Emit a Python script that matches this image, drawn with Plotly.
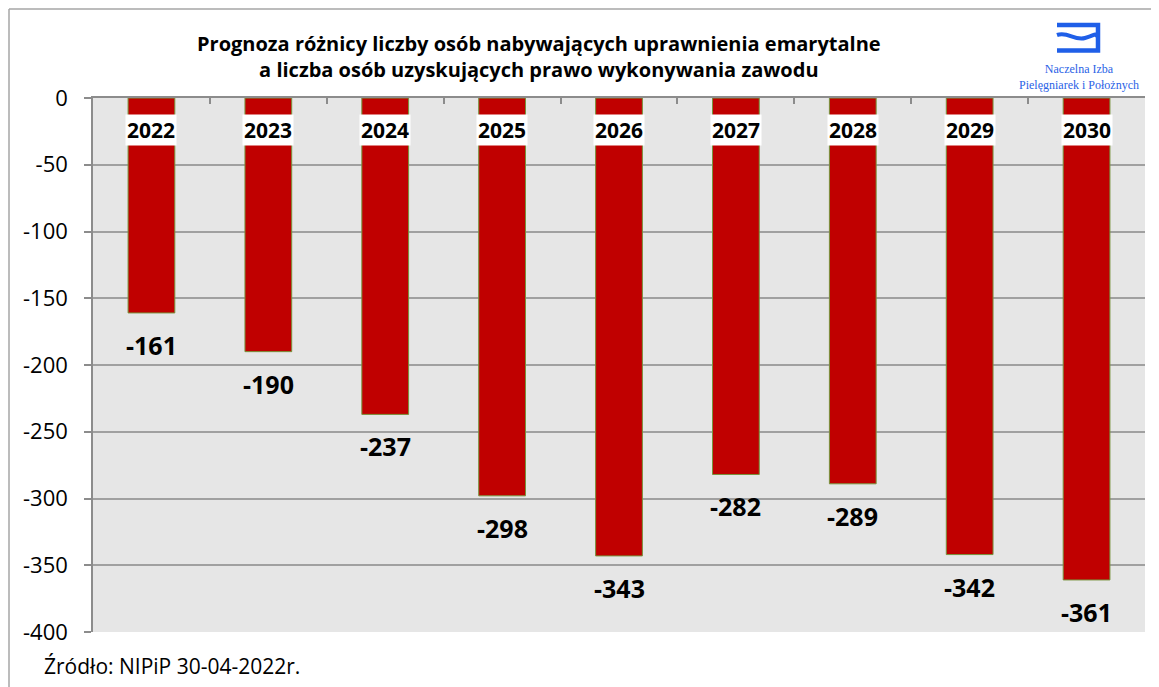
import plotly.graph_objects as go

years = ["2022", "2023", "2024", "2025", "2026", "2027", "2028", "2029", "2030"]
values = [-161, -190, -237, -298, -343, -282, -289, -342, -361]
y_ticks = [0, -50, -100, -150, -200, -250, -300, -350, -400]

title_text = ("Prognoza różnicy liczby osób nabywających uprawnienia emarytalne<br>"
              "a liczba osób uzyskujących prawo wykonywania zawodu")
source_text = "Źródło: NIPiP 30-04-2022r."
logo_text = "Naczelna Izba<br>Pielęgniarek i Położnych"

# page body has an 8px margin; screen coords are used below
OFF = 8
W, H = 1151, 679
ML, MR, MT, MB = 85, 14, 90, 55
PW, PH = W - ML - MR, H - MT - MB


def px(sx):
    return (sx - OFF - ML) / PW


def py(sy):
    return (OFF + H - MB - sy) / PH


FONT = "Open Sans"
idx = list(range(len(years)))

fig = go.Figure()
fig.add_trace(go.Bar(
    x=idx, y=values,
    marker=dict(color="#C00000", line=dict(color="#77933C", width=1)),
    width=0.4,
    customdata=years,
    hovertemplate="%{customdata}: %{y}<extra></extra>",
))

annotations = []
for i, (yr, v) in enumerate(zip(years, values)):
    annotations.append(dict(
        x=i, y=0, xref="x", yref="y", text="<b>%s</b>" % yr, showarrow=False,
        yshift=-32, yanchor="middle", bgcolor="white", borderpad=1,
        font=dict(family=FONT, size=21, color="black")))
    annotations.append(dict(
        x=i, y=v, xref="x", yref="y", text="<b>%d</b>" % v, showarrow=False,
        yshift=-32, yanchor="middle",
        font=dict(family=FONT, size=25, color="black")))

annotations.append(dict(
    x=px(539), y=py(56), xref="paper", yref="paper", text="<b>%s</b>" % title_text,
    showarrow=False, xanchor="center", yanchor="middle", align="center",
    font=dict(family=FONT, size=20, color="black")))
annotations.append(dict(
    x=px(1079), y=py(77), xref="paper", yref="paper", text=logo_text,
    showarrow=False, xanchor="center", yanchor="middle", align="center",
    font=dict(family="Liberation Serif", size=12, color="#2A62E6")))
annotations.append(dict(
    x=px(42), y=py(666), xref="paper", yref="paper", text=source_text,
    showarrow=False, xanchor="left", yanchor="middle",
    font=dict(family=FONT, size=21, color="black")))

blue = "#1F5FE8"
shapes = [
    # outer frame (left and top edges)
    dict(type="line", xref="paper", yref="paper",
         x0=px(9), y0=py(9), x1=px(9), y1=py(720),
         line=dict(color="#A6A6A6", width=1.5)),
    dict(type="line", xref="paper", yref="paper",
         x0=px(9), y0=py(9), x1=px(1200), y1=py(9),
         line=dict(color="#A6A6A6", width=1.5)),
    # logo
    dict(type="path", xref="paper", yref="paper",
         path="M %f,%f L %f,%f L %f,%f L %f,%f" % (
             px(1057), py(25), px(1098), py(25), px(1098), py(50.5), px(1057), py(50.5)),
         line=dict(color=blue, width=4.5)),
    dict(type="path", xref="paper", yref="paper",
         path="M %f,%f C %f,%f %f,%f %f,%f S %f,%f %f,%f" % (
             px(1057), py(35), px(1068), py(31), px(1074), py(41),
             px(1085), py(38), px(1094), py(33), px(1097), py(36)),
         line=dict(color=blue, width=4)),
]

fig.update_layout(
    width=W, height=H,
    margin=dict(l=ML, r=MR, t=MT, b=MB, pad=0, autoexpand=False),
    paper_bgcolor="white", plot_bgcolor="#E6E6E6",
    showlegend=False,
    annotations=annotations, shapes=shapes,
    font=dict(family=FONT, color="black"),
    xaxis=dict(
        range=[-0.5, len(years) - 0.5], side="top", showticklabels=False,
        tickvals=[i + 0.5 for i in idx[:-1]] + [-0.5, len(years) - 0.5],
        ticks="inside", ticklen=6, tickcolor="#8C8C8C", tickwidth=1.5,
        showline=True, linecolor="#8C8C8C", linewidth=1.5,
        showgrid=False, zeroline=False,
    ),
    yaxis=dict(
        range=[-400, 0], tickvals=y_ticks, ticktext=[str(t) for t in y_ticks],
        ticks="outside", ticklen=7, tickcolor="#8C8C8C", tickwidth=1.5,
        showline=True, linecolor="#8C8C8C", linewidth=1.5,
        showgrid=True, gridcolor="#A0A0A0", gridwidth=1.5, zeroline=False,
        tickfont=dict(family=FONT, size=22, color="black"),
        ticklabelstandoff=12,
    ),
)

fig.write_html("out.html")
